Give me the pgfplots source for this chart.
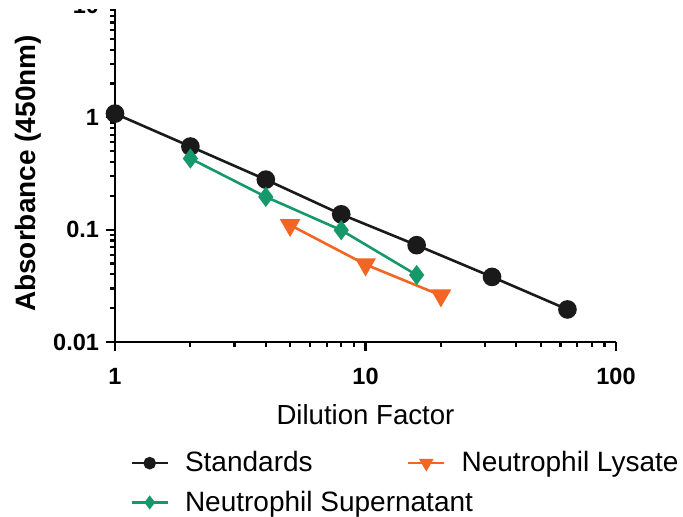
\documentclass[border=0pt]{standalone}
\usepackage{pgfplots}
\pgfplotsset{compat=1.18}
\usepackage{fontspec}
\setmainfont{Liberation Sans}
\definecolor{stdblack}{HTML}{1A1A1A}
\definecolor{supgreen}{HTML}{16996A}
\definecolor{lysorange}{HTML}{F26522}

\begin{document}
\begin{tikzpicture}
\begin{axis}[
  xmode=log, ymode=log,
  scale only axis, width=250.5pt, height=168.5pt,
  xmin=1, xmax=100, ymin=0.01, ymax=10,
  axis x line=bottom, axis y line=left,
  axis line style={-, line width=1.3pt, black},
  tick style={line width=1.1pt, black},
  tick align=outside,
  major tick length=4.5pt, minor tick length=2.5pt,
  xtick={1,10,100}, xticklabels={1,10,100},
  ytick={0.01,0.1,1,10}, yticklabels={0.01,0.1,1,10},
  minor xtick={2,3,4,5,6,7,8,9,20,30,40,50,60,70,80,90},
  minor ytick={0.02,0.03,0.04,0.05,0.06,0.07,0.08,0.09,0.2,0.3,0.4,0.5,0.6,0.7,0.8,0.9,2,3,4,5,6,7,8,9},
  ticklabel style={font=\bfseries\fontsize{11.75}{13}\selectfont},
  xticklabel style={yshift=-5pt},
  xlabel={Dilution Factor},
  ylabel={\bfseries Absorbance (450nm)},
  xlabel style={font=\fontsize{13.8}{15}\selectfont, yshift=-3pt},
  ylabel style={font=\fontsize{14}{16}\selectfont, yshift=-1pt},
  clip=false,
  legend columns=2,
  legend cell align=left,
  legend image code/.code={
    \draw[mark repeat=2, mark phase=2, every mark/.append style={scale=0.62}]
      plot coordinates {(0pt,0pt) (9pt,0pt) (18pt,0pt)};},
  legend style={draw=none, fill=none, font=\fontsize{14}{15}\selectfont,
    at={(axis description cs:0.018,-0.30)}, anchor=north west,
    /tikz/every odd column/.append style={column sep=6pt},
    /tikz/every even column/.append style={column sep=46pt},
    row sep=4pt},
]
\addplot[stdblack, line width=1.3pt, mark=*, mark size=4pt,
  mark options={fill=stdblack, draw=stdblack}]
  coordinates {(1,1.08) (2,0.55) (4,0.279) (8,0.137) (16,0.0728) (32,0.038) (64,0.0195)};
\addlegendentry{\makebox[63pt][l]{Standards}}
\addplot[lysorange, line width=1.3pt, mark=triangle*, mark size=4.7pt,
  mark options={rotate=180, fill=lysorange, draw=lysorange}]
  coordinates {(5,0.11) (10,0.049) (20,0.026)};
\addlegendentry{Neutrophil Lysate}
\addplot[supgreen, line width=1.3pt, mark=diamond*, mark size=4pt,
  mark options={fill=supgreen, draw=supgreen}]
  coordinates {(2,0.43) (4,0.196) (8,0.099) (16,0.0395)};
\addlegendentry{\makebox[63pt][l]{Neutrophil Supernatant}}
\end{axis}
% white strip over the top edge, as in the cropped original
\fill[white] ([shift={(-57.5pt,166.5pt)}]current axis.south west)
  rectangle ([shift={(284pt,172pt)}]current axis.south west);
\pgfresetboundingbox
\path[use as bounding box] ([shift={(-57.5pt,-87pt)}]current axis.south west)
  rectangle ([shift={(284pt,171pt)}]current axis.south west);
\end{tikzpicture}
\end{document}
